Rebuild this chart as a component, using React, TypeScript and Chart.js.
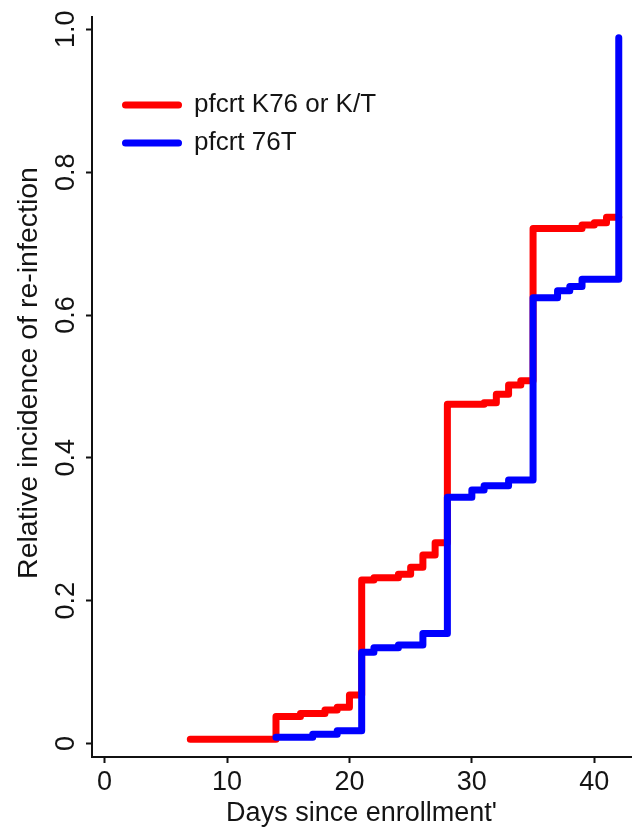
import React, { useEffect, useRef } from 'react';
import { Chart, registerables } from 'chart.js';

Chart.register(...registerables);

// Step-function data (day at which the value changes, new value)
const redDays = [7, 14, 16, 18, 19, 20, 21, 22, 24, 25, 26, 27, 28, 31, 32, 33, 34, 35, 39, 40, 41, 42];
const redValues = [0.006, 0.038, 0.042, 0.047, 0.051, 0.068, 0.229, 0.232, 0.237, 0.247, 0.264, 0.281, 0.475, 0.477, 0.489, 0.502, 0.508, 0.721, 0.726, 0.729, 0.737, 0.737];
const blueDays = [14, 17, 19, 21, 22, 24, 26, 28, 30, 31, 33, 35, 37, 38, 39, 42];
const blueValues = [0.009, 0.013, 0.018, 0.128, 0.134, 0.138, 0.154, 0.345, 0.355, 0.361, 0.369, 0.624, 0.634, 0.640, 0.650, 0.988];

const xTicks = [0, 10, 20, 30, 40];
const yTicks = [0, 0.2, 0.4, 0.6, 0.8, 1.0];
const yTickLabels = ['0', '0.2', '0.4', '0.6', '0.8', '1.0'];
const seriesLabels = ['pfcrt K76 or K/T', 'pfcrt 76T'];
const seriesColors = ['#ff0000', '#0000ff'];
const xTitle = "Days since enrollment'";
const yTitle = 'Relative incidence of re-infection';

const FONT = '"Liberation Sans", Arial, sans-serif';
const TEXT_COLOR = '#141414';

const textPlugin = {
  id: 'customTexts',
  afterDraw(chart: any) {
    const ctx: CanvasRenderingContext2D = chart.ctx;
    const xs = chart.scales.x;
    const ys = chart.scales.y;
    const area = chart.chartArea;
    ctx.save();
    ctx.fillStyle = TEXT_COLOR;

    // x tick labels
    ctx.font = `27px ${FONT}`;
    ctx.textAlign = 'center';
    ctx.textBaseline = 'alphabetic';
    xTicks.forEach((t) => {
      ctx.fillText(String(t), xs.getPixelForValue(t), area.bottom + 33);
    });

    // y tick labels (rotated)
    yTicks.forEach((t, i) => {
      ctx.save();
      ctx.translate(area.left - 18, ys.getPixelForValue(t));
      ctx.rotate(-Math.PI / 2);
      ctx.textAlign = 'center';
      ctx.textBaseline = 'alphabetic';
      ctx.fillText(yTickLabels[i], 0, 0);
      ctx.restore();
    });

    // axis titles
    ctx.font = `27px ${FONT}`;
    ctx.textAlign = 'center';
    ctx.textBaseline = 'alphabetic';
    ctx.fillText(xTitle, (area.left + area.right) / 2, area.bottom + 64);

    ctx.font = `28.5px ${FONT}`;
    ctx.save();
    ctx.translate(area.left - 55, (area.top + area.bottom) / 2 - 14);
    ctx.rotate(-Math.PI / 2);
    ctx.fillText(yTitle, 0, 0);
    ctx.restore();

    // legend
    const legendY = [105, 143];
    ctx.font = `26px ${FONT}`;
    ctx.textAlign = 'left';
    ctx.textBaseline = 'alphabetic';
    seriesLabels.forEach((lab, i) => {
      ctx.save();
      ctx.strokeStyle = seriesColors[i];
      ctx.lineWidth = 7;
      ctx.lineCap = 'round';
      ctx.beginPath();
      ctx.moveTo(125.5, legendY[i]);
      ctx.lineTo(178.5, legendY[i]);
      ctx.stroke();
      ctx.restore();
      ctx.fillText(lab, 194, legendY[i] + 7);
    });
    ctx.restore();
  },
};

export default function App() {
  const canvasRef = useRef<HTMLCanvasElement | null>(null);

  useEffect(() => {
    if (!canvasRef.current) return;
    const redData = redDays.map((d, i) => ({ x: d, y: redValues[i] }));
    const blueData = blueDays.map((d, i) => ({ x: d, y: blueValues[i] }));

    const chart = new Chart(canvasRef.current, {
      type: 'line',
      data: {
        datasets: [
          {
            label: seriesLabels[0],
            data: redData,
            borderColor: seriesColors[0],
            backgroundColor: seriesColors[0],
            borderWidth: 7,
            borderCapStyle: 'round',
            borderJoinStyle: 'round',
            stepped: true,
            pointRadius: 0,
            fill: false,
            order: 1,
          },
          {
            label: seriesLabels[1],
            data: blueData,
            borderColor: seriesColors[1],
            backgroundColor: seriesColors[1],
            borderWidth: 7,
            borderCapStyle: 'round',
            borderJoinStyle: 'round',
            stepped: true,
            pointRadius: 0,
            fill: false,
            order: 0,
          },
        ],
      },
      options: {
        responsive: false,
        animation: false,
        events: [],
        layout: {
          padding: { left: 86, right: 6, top: 17, bottom: 68 },
        },
        plugins: {
          legend: { display: false },
          tooltip: { enabled: false },
        },
        scales: {
          x: {
            type: 'linear',
            min: -1.03,
            max: 43.0,
            afterBuildTicks: (scale: any) => {
              scale.ticks = xTicks.map((v) => ({ value: v }));
            },
            ticks: { display: false },
            grid: {
              display: true,
              drawOnChartArea: false,
              drawTicks: true,
              tickLength: 6,
              tickWidth: 2,
              tickColor: '#111',
            },
            border: { display: true, color: '#111', width: 2 },
          },
          y: {
            type: 'linear',
            min: -0.0188,
            max: 1.0172,
            afterBuildTicks: (scale: any) => {
              scale.ticks = yTicks.map((v) => ({ value: v }));
            },
            ticks: { display: false },
            grid: {
              display: true,
              drawOnChartArea: false,
              drawTicks: true,
              tickLength: 6,
              tickWidth: 2,
              tickColor: '#111',
            },
            border: { display: true, color: '#111', width: 2 },
          },
        },
      },
      plugins: [textPlugin],
    });

    return () => chart.destroy();
  }, []);

  return (
    <div style={{ position: 'fixed', left: 0, top: 0, width: 637, height: 831, background: '#fff' }}>
      <canvas ref={canvasRef} width={637} height={831} style={{ display: 'block' }} />
    </div>
  );
}
